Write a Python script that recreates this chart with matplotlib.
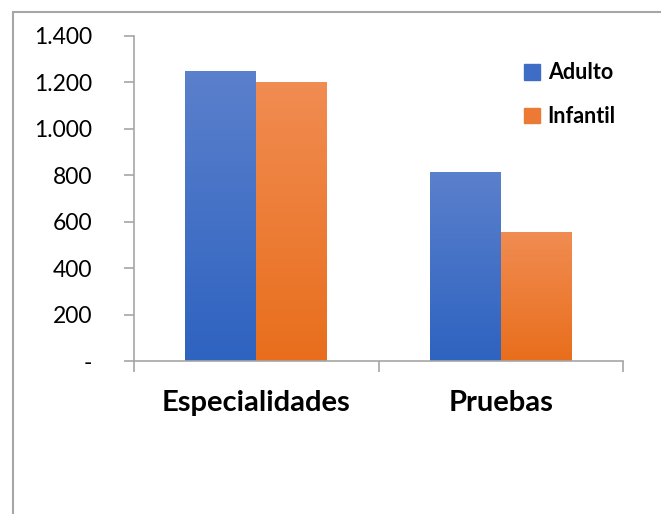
import numpy as np
import matplotlib
matplotlib.use("Agg")
import matplotlib.pyplot as plt
from matplotlib.patches import Rectangle
from matplotlib.colors import LinearSegmentedColormap
from matplotlib.ticker import FixedLocator

plt.rcParams['font.family'] = ['Lato', 'DejaVu Sans']

categories = ["Especialidades", "Pruebas"]
series_names = ["Adulto", "Infantil"]
adulto = [1250, 815]
infantil = [1200, 555]
y_ticks = [0, 200, 400, 600, 800, 1000, 1200, 1400]
y_tick_labels = ["-", "200", "400", "600", "800", "1.000", "1.200", "1.400"]

gradients = {
    "Adulto": ("#5B80CC", "#2E63C0"),
    "Infantil": ("#F18C52", "#E86E1C"),
}

fig = plt.figure(figsize=(6.61, 5.14), dpi=100)
ax = fig.add_axes([134 / 661, 1 - 361 / 514, 489 / 661, 325 / 514])

x = np.arange(len(categories)) + 0.5
width = 0.29
grad = np.linspace(1, 0, 256).reshape(-1, 1)

for offset, name, vals in [(-width / 2, "Adulto", adulto), (width / 2, "Infantil", infantil)]:
    top_c, bot_c = gradients[name]
    cmap = LinearSegmentedColormap.from_list(name, [bot_c, top_c])
    bars = ax.bar(x + offset, vals, width, color=top_c, label=name, zorder=2)
    for b in bars:
        b.set_facecolor("none")
        x0, y0 = b.get_x(), b.get_y()
        w, h = b.get_width(), b.get_height()
        im = ax.imshow(grad, cmap=cmap, aspect="auto",
                       extent=[x0, x0 + w, y0, y0 + h], zorder=2)
        im.set_clip_path(b)

ax.set_xlim(0, 2)
ax.set_ylim(0, 1400)

for s in ["top", "right"]:
    ax.spines[s].set_visible(False)
for s in ["left", "bottom"]:
    ax.spines[s].set_color("#A6A6A6")
    ax.spines[s].set_linewidth(1.2)

ax.set_yticks(y_ticks)
ax.set_yticklabels(y_tick_labels, fontsize=16.5)
ax.tick_params(axis="y", length=7, width=1.2, color="#A6A6A6", pad=23)

ax.set_xticks(x)
ax.set_xticklabels(categories, fontsize=21, fontweight="bold")
ax.tick_params(axis="x", which="major", length=0, pad=21)
ax.xaxis.set_minor_locator(FixedLocator([0, 1, 2]))
ax.tick_params(axis="x", which="minor", length=8, width=1.2, color="#A6A6A6")

handles = [Rectangle((0, 0), 1, 1, color=c) for c in ("#3F6DC6", "#EC7A34")]
leg = ax.legend(handles, series_names, loc="upper left",
                bbox_to_anchor=(0.78, 0.945), frameon=False,
                prop={"size": 15.5, "weight": "bold"},
                handlelength=0.75, handleheight=0.75, handletextpad=0.35,
                labelspacing=1.05, borderaxespad=0)

fig.patches.append(Rectangle((13 / 661, -0.05), 1.2, 1 - 12 / 514 + 0.05,
                             transform=fig.transFigure, fill=False,
                             edgecolor="#A6A6A6", linewidth=1.5))

fig.savefig("out.png", dpi=100)
